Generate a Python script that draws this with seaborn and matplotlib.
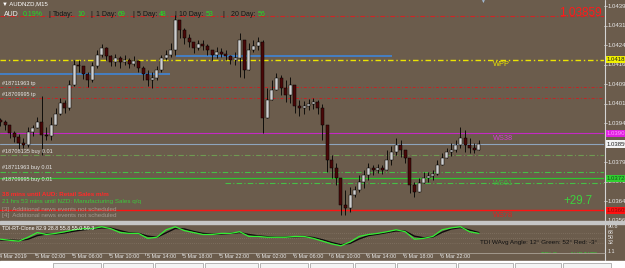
import matplotlib
matplotlib.use("Agg")
import matplotlib.pyplot as plt
import matplotlib.transforms as mtransforms
from matplotlib.patches import Rectangle
from matplotlib.lines import Line2D
import numpy as np
import pandas as pd
import seaborn as sns

# ---------------- data (prices in 1e-5 above BASE) ----------------
BASE = 1.03500
PIP = 1e-5
first_open = 451
close_pts = [444, 433, 402, 386, 363, 356, 405, 421, 444, 394,
             390, 433, 475, 517, 497, 586, 663, 659, 628, 606,
             659, 701, 729, 698, 674, 690, 674, 682, 667, 678,
             652, 628, 606, 613, 644, 690, 701, 721, 836, 797,
             767, 751, 729, 744, 736, 721, 701, 713, 705, 698,
             682, 690, 759, 644, 721, 736, 751, 459, 529, 567,
             613, 574, 548, 586, 505, 497, 505, 513, 521, 497,
             433, 298, 267, 229, 125, 113, 163, 183, 213, 240,
             267, 259, 267, 259, 298, 328, 356, 336, 306, 201,
             175, 209, 229, 236, 244, 278, 306, 328, 336, 356,
             382, 356, 344, 336, 360]
high_pts = [459, 451, 425, 409, 398, 382, 425, 433, 463, 544,
            425, 463, 497, 536, 529, 606, 682, 682, 659, 636,
            674, 721, 744, 732, 701, 705, 698, 701, 690, 698,
            682, 659, 644, 636, 659, 701, 721, 747, 855, 829,
            805, 783, 751, 759, 759, 744, 721, 732, 729, 721,
            701, 713, 787, 751, 747, 759, 771, 759, 574, 606,
            632, 624, 606, 616, 536, 529, 525, 532, 536, 529,
            513, 374, 316, 286, 229, 183, 194, 197, 240, 259,
            286, 278, 282, 278, 336, 352, 382, 374, 328, 298,
            213, 229, 252, 252, 259, 298, 324, 344, 363, 374,
            425, 413, 382, 363, 374]
low_pts = [429, 413, 382, 367, 336, 344, 348, 390, 421, 316,
           374, 374, 433, 471, 479, 490, 582, 636, 610, 578,
           598, 652, 694, 682, 659, 659, 652, 663, 652, 659,
           636, 606, 582, 574, 606, 636, 682, 694, 701, 767,
           744, 732, 709, 721, 721, 701, 682, 690, 694, 682,
           667, 663, 616, 613, 694, 713, 721, 402, 490, 536,
           574, 548, 521, 517, 479, 467, 475, 490, 493, 475,
           374, 252, 229, 201, 86, 86, 98, 155, 175, 190,
           221, 240, 248, 244, 259, 278, 316, 310, 286, 171,
           155, 190, 209, 213, 221, 240, 278, 306, 314, 328,
           344, 328, 324, 324, 336]

tdi_green = [45, 41, 38, 52, 69, 62, 66, 72, 79, 83,
             83, 90, 83, 69, 66, 66, 48, 52, 79, 90,
             76, 69, 62, 62, 66, 66, 72, 55, 55, 52,
             52, 52, 55, 55, 48, 38, 28, 21, 35, 55,
             62, 66, 72, 79, 72, 45, 48, 55, 79, 86,
             90, 72, 66]
tdi_signal = [42, 42, 40, 45, 58, 64, 64, 68, 74, 79,
              82, 86, 85, 76, 68, 66, 56, 52, 68, 84,
              82, 73, 66, 63, 64, 66, 69, 62, 57, 54,
              52, 52, 54, 55, 51, 43, 33, 25, 30, 46,
              58, 63, 69, 75, 74, 56, 50, 53, 70, 82,
              87, 78, 69]

time_labels = ["4 Mar 2019", "5 Mar 02:00", "5 Mar 06:00", "5 Mar 10:00", "5 Mar 14:00",
               "5 Mar 18:00", "5 Mar 22:00", "6 Mar 02:00", "6 Mar 06:00", "6 Mar 10:00",
               "6 Mar 14:00", "6 Mar 18:00", "6 Mar 22:00"]
price_tick_labels = ["1.04390", "1.04315", "1.04240", "1.04165", "1.04090", "1.04015",
                     "1.03940", "1.03790", "1.03715", "1.03640", "1.03565"]
tdi_tick_values = [90.8, 68, 50, 32, 1.1]
tdi_tick_labels = ["90.8", "68", "50", "32", "1.1"]

lvl_top_dd = 851
lvl_blue1 = 628
lvl_blue2 = 698
lvl_wpp = 683
lvl_tp1 = 578
lvl_tp2 = 536
lvl_ws38 = 401
lvl_bid = 359
lvl_buy1 = 317
lvl_buy2 = 252
lvl_ws61 = 228
lvl_buy3 = 209
lvl_ws78 = 105

pivot_names = ["WPP", "WS38", "WS61", "WS78"]
order_names = ["#18711963 tp", "#18709995 tp", "#18708135 buy 0.01",
               "#18711963 buy 0.01", "#18709995 buy 0.01"]
news_lines = ["38 mins until AUD: Retail Sales m/m",
              "21 hrs 53 mins until NZD: Manufacturing Sales q/q",
              "[3]  Additional news events not scheduled",
              "[4]  Additional news events not scheduled"]
stats_labels = ["Today:", "1 Day:", "5 Day:", "10 Day:", "20 Day:"]
stats_values = ["10", "69", "48", "53", "56"]
pair_text = "AUD"
change_text = "0.19%"
bid_text = "1.03859"
profit_text = "+29.7"
symbol_text = "AUDNZD,M15"
tdi_header = "TDI-RT-Clone 82.9 28.8 55.8 55.0 59.3"
tdi_angle = "TDI WAvg Angle: 12\u00b0 Green: 52\u00b0 Red: -3\u00b0"
tdi_cross = "TDI Cross AUD/NZD"

# ---------------- layout helpers ----------------
W, H = 625, 268
BG = "#6b5c4c"
PXB = 2.3      # pixels per M15 bar
X0 = 0.8
CW = 604       # chart width in px


def fx(px):
    return px / W


def fy(py):
    return 1 - py / H


def P(v):
    return BASE + v * PIP


def bar_at(px):
    return X0 + px / PXB


sns.set_style("dark")
plt.rcParams['font.family'] = ['Liberation Sans', 'DejaVu Sans']

fig = plt.figure(figsize=(W / 100, H / 100), dpi=100)
fig.patch.set_facecolor(BG)

# main price panel: y 0..221 px
ax = fig.add_axes([0, fy(221), fx(CW), 221 / H])
ax.set_facecolor(BG)
ax.set_xlim(X0, X0 + CW / PXB)
ax.set_ylim(1.04390 - 215 * 3.846e-5, 1.04390 + 6 * 3.846e-5)
ax.axis('off')

df = pd.DataFrame({"close": close_pts, "high": high_pts, "low": low_pts})
df["open"] = [first_open] + close_pts[:-1]
df["bar"] = np.arange(len(df)) * 2 + 1
for col in ["open", "close", "high", "low"]:
    df[col] = df[col].map(P)

hi = df[["high", "open", "close"]].max(axis=1)
lo = df[["low", "open", "close"]].min(axis=1)
ax.vlines(df["bar"], lo, hi, color="black", lw=0.6, zorder=4)
bull = df["close"] >= df["open"]
body_h = (df["close"] - df["open"]).abs().clip(lower=1.2 * PIP)
body_b = df[["open", "close"]].min(axis=1)
ax.bar(df["bar"], body_h, bottom=body_b, width=1.3,
       color=np.where(bull, "#cfcfcf", "#4a0808"),
       edgecolor="black", linewidth=0.35, zorder=5)

# level lines
DD = (4, 2, 1, 2)
DD2 = (0, (5, 2, 1, 2))
ax.axhline(P(lvl_top_dd), color="#d42222", lw=0.8, dashes=DD, zorder=2)
ax.hlines(P(lvl_blue1), bar_at(0), bar_at(170), color="#3f86d8", lw=1.2, zorder=3)
ax.hlines(P(lvl_blue2), bar_at(176), bar_at(392), color="#3f86d8", lw=1.2, zorder=3)
ax.hlines(P(lvl_buy1), bar_at(0), bar_at(CW), color="#6e9a52", lw=0.8, linestyles=DD2, zorder=2)
ax.axhline(P(lvl_wpp), color="#ece400", lw=1.0, dashes=DD, zorder=2)
ax.axhline(P(lvl_tp1), color="#c42424", lw=0.7, dashes=(3, 2, 1, 2), zorder=2)
ax.axhline(P(lvl_tp2), color="#c42424", lw=0.7, dashes=(3, 2, 1, 2), zorder=2)
ax.axhline(P(lvl_ws38), color="#c428c4", lw=0.8, zorder=2)
ax.axhline(P(lvl_bid), color="#8ea4bc", lw=0.8, zorder=2)
ax.hlines(P(lvl_buy2), bar_at(0), bar_at(CW), color="#46c046", lw=0.8, linestyles=DD2, zorder=2)
ax.axhline(P(lvl_ws61), color="#2ec82e", lw=0.9, zorder=2)
ax.hlines(P(lvl_buy3), bar_at(225), bar_at(CW), color="#46c046", lw=0.8, linestyles=DD2, zorder=2)
ax.axhline(P(lvl_ws78), color="#ff1212", lw=1.0, zorder=2)

# pivot labels (below lines)
piv_cols = ["#ece400", "#d040d0", "#3cb83c", "#e02020"]
for name, lv, col in zip(pivot_names, [lvl_wpp, lvl_ws38, lvl_ws61, lvl_ws78], piv_cols):
    ax.annotate(name, xy=(bar_at(493), P(lv)), xytext=(0, -1.2), textcoords="offset points",
                color=col, fontsize=5.3, ha="left", va="top", zorder=6)

# order labels (above lines)
for name, lv in zip(order_names, [lvl_tp1, lvl_tp2, lvl_buy1, lvl_buy2, lvl_buy3]):
    ax.annotate(name, xy=(bar_at(2), P(lv)), xytext=(0, 1.0), textcoords="offset points",
                color="#e6e6e6", fontsize=4.0, ha="left", va="bottom", zorder=6)

# news text
news_cols = ["#ff2a2a", "#3cc83c", "#a39a90", "#a39a90"]
news_y = [195, 202, 209, 216]
for t, c, yy in zip(news_lines, news_cols, news_y):
    fig.text(fx(2), fy(yy), t, color=c, fontsize=4.5, ha="left", va="center",
             fontweight="bold" if c == "#ff2a2a" else "normal")

# header
fig.text(fx(2), fy(4), "\u25bc " + symbol_text, color="white", fontsize=4.3, ha="left", va="center")
fig.text(fx(4), fy(14), pair_text, color="#f0f0f0", fontsize=5.0, ha="left", va="center")
fig.text(fx(43), fy(14), change_text, color="#22e022", fontsize=5.0, ha="right", va="center")
sep_x = [48, 90, 132, 174, 222]
lab_x = [53, 96, 137, 179, 231]
val_x = [77, 118, 159, 206, 258]
for sx, lx, vx, lab, val in zip(sep_x, lab_x, val_x, stats_labels, stats_values):
    fig.text(fx(sx), fy(14), "|", color="#141414", fontsize=5.0, ha="left", va="center")
    fig.text(fx(lx), fy(14), lab, color="#141414", fontsize=5.0, ha="left", va="center")
    fig.text(fx(vx), fy(14), val, color="#22e022", fontsize=5.0, ha="left", va="center")
fig.text(fx(482), fy(1.5), "\u25bc", color="#a4bcd6", fontsize=3.5, ha="center", va="center")

fig.text(fx(602), fy(12.5), bid_text, color="#ff1a1a", fontsize=8.5, ha="right", va="center")
fig.text(fx(563), fy(201), profit_text, color="#3ed03e", fontsize=8.3, ha="left", va="center")

# right price axis
blend = mtransforms.blended_transform_factory(ax.transAxes, ax.transData)
for lab in price_tick_labels:
    v = float(lab)
    ax.plot([1, 1 + 3 / CW], [v, v], transform=blend, clip_on=False, color="#d8d8d8", lw=0.5)
    ax.text(1 + 4 / CW, v, lab, transform=blend, clip_on=False, color="#e8e8e8",
            fontsize=4.3, ha="left", va="center")
box_specs = [(lvl_wpp, "#f0f000", "#202020"), (lvl_ws38, "#e020e0", "#ff9cff"),
             (lvl_bid, "#f4f4f4", "#202020"), (lvl_ws61, "#30d030", "#1a4a1a"),
             (lvl_ws78, "#ff1010", "#8a0a0a")]
for lv, fc, tc in box_specs:
    ax.text(1 + 3 / CW, P(lv), f"{P(lv):.5f}", transform=blend, clip_on=False, color=tc,
            fontsize=4.3, ha="left", va="center", zorder=8,
            bbox=dict(boxstyle="square,pad=0.18", fc=fc, ec="none"))

# indicator panel: y 224..253 px
ax2 = fig.add_axes([0, fy(253), fx(CW), 29 / H])
ax2.set_facecolor(BG)
ax2.set_xlim(X0, X0 + CW / PXB)
ax2.set_ylim(-5, 100)
ax2.axis('off')
tdi_bars = np.arange(len(tdi_green)) * 4 + 1
for lv in [68, 50, 32]:
    ax2.axhline(lv, color="#8c7e6e", lw=0.5, ls=(0, (1, 2)))
sns.lineplot(x=tdi_bars, y=tdi_signal, ax=ax2, color="#0c0c0c", lw=1.0)
sns.lineplot(x=tdi_bars, y=tdi_green, ax=ax2, color="#34ee34", lw=0.9)
ax2.text(0.004, 0.86, tdi_header, transform=ax2.transAxes, color="white", fontsize=3.8,
         ha="left", va="center")
fig.text(fx(480), fy(242.5), tdi_angle, color="#101010", fontsize=4.6, ha="left", va="center")
ax2.text(bar_at(541), 0.02, tdi_cross, transform=mtransforms.blended_transform_factory(ax2.transData, ax2.transAxes),
         color="#30d030", fontsize=4.4, ha="left", va="top", clip_on=True)
blend2 = mtransforms.blended_transform_factory(ax2.transAxes, ax2.transData)
for v, lab in zip(tdi_tick_values, tdi_tick_labels):
    ax2.text(1 + 4 / CW, v, lab, transform=blend2, clip_on=False, color="#e8e8e8",
             fontsize=3.8, ha="left", va="center")

# separators / frame
fig.add_artist(Rectangle((0, fy(224)), 1, 3 / H, transform=fig.transFigure, color="#c6c6c6", zorder=10))
fig.add_artist(Line2D([fx(CW + 0.5)] * 2, [fy(0), fy(260)], transform=fig.transFigure, color="#d4d4d4", lw=0.8))
fig.add_artist(Line2D([0, fx(CW + 0.5)], [fy(253.3)] * 2, transform=fig.transFigure, color="#b8b0a6", lw=0.5))

# time axis labels
tblend = mtransforms.blended_transform_factory(ax2.transData, fig.transFigure)
for k, lab in enumerate(time_labels):
    b = 16 * k
    ax2.plot([b, b], [fy(253), fy(255)], transform=tblend, clip_on=False, color="#d0d0d0", lw=0.5)
    ax2.text(b + 0.5, fy(256), lab, transform=tblend, clip_on=False, color="#e8e8e8",
             fontsize=3.9, ha="left", va="center")

# bottom tab strip
fig.add_artist(Rectangle((0, 0), 1, fy(261), transform=fig.transFigure, color="white", zorder=10))
tabs = [53, 103, 155, 205, 260, 310, 355, 397, 458, 515, 563, 613]
for a, b in zip(tabs[:-1], tabs[1:]):
    fig.add_artist(Rectangle((fx(a), 0), fx(b - a - 2), fy(262.5), transform=fig.transFigure,
                             fc="#f4f4f4", ec="#9a9a9a", lw=0.5, zorder=11))

fig.savefig("out.png", dpi=100, facecolor=BG)
